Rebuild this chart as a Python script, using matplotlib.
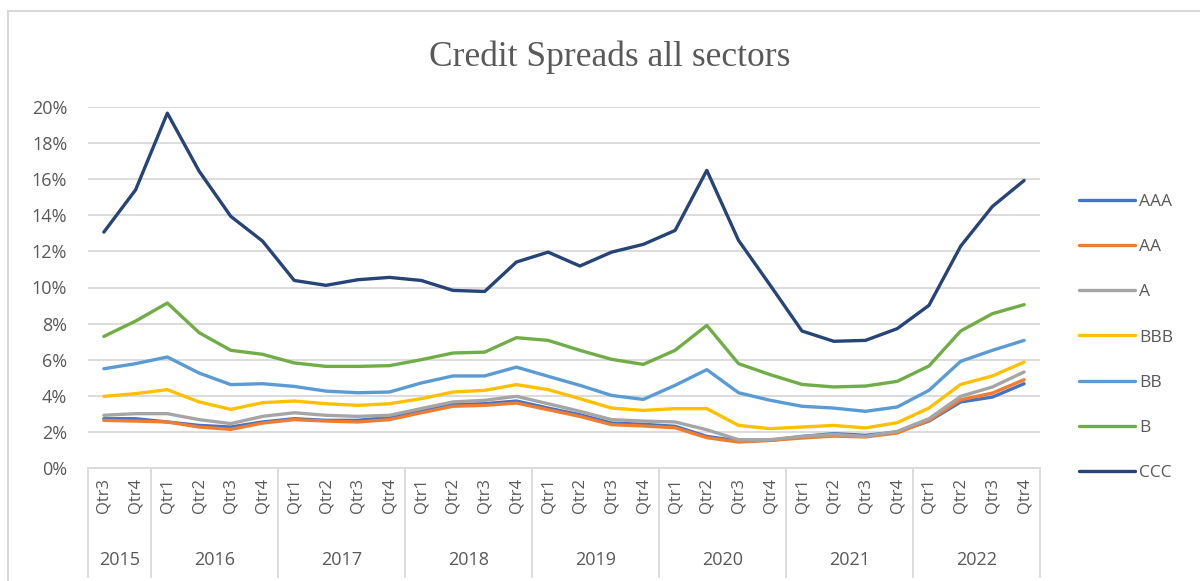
import matplotlib
matplotlib.use("Agg")
import matplotlib.pyplot as plt
from matplotlib.patches import Rectangle
from matplotlib.transforms import blended_transform_factory
import numpy as np

# quarterly credit spreads, 2015 Q3 .. 2022 Q4 (percent)
quarters = ["Qtr3", "Qtr4"] + ["Qtr1", "Qtr2", "Qtr3", "Qtr4"] * 7
years = ["2015", "2016", "2017", "2018", "2019", "2020", "2021", "2022"]
year_len = [2, 4, 4, 4, 4, 4, 4, 4]

aaa = [2.73, 2.73, 2.55, 2.36, 2.27, 2.55, 2.73, 2.64, 2.64, 2.80,
       3.14, 3.51, 3.56, 3.71, 3.32, 2.95, 2.49, 2.42, 2.31, 1.75,
       1.50, 1.53, 1.75, 1.90, 1.81, 1.99, 2.60, 3.66, 3.93, 4.67]
aa = [2.64, 2.60, 2.55, 2.27, 2.14, 2.49, 2.68, 2.60, 2.55, 2.68,
      3.06, 3.42, 3.47, 3.60, 3.23, 2.86, 2.40, 2.33, 2.23, 1.68,
      1.44, 1.53, 1.66, 1.77, 1.72, 1.94, 2.64, 3.78, 4.15, 4.89]
a = [2.92, 3.01, 3.01, 2.68, 2.46, 2.86, 3.06, 2.92, 2.86, 2.92,
     3.29, 3.66, 3.75, 3.97, 3.56, 3.14, 2.68, 2.60, 2.55, 2.12,
     1.57, 1.57, 1.75, 1.86, 1.75, 2.03, 2.73, 3.97, 4.49, 5.32]
bbb = [3.97, 4.12, 4.34, 3.66, 3.25, 3.62, 3.71, 3.56, 3.47, 3.56,
       3.84, 4.21, 4.30, 4.62, 4.34, 3.84, 3.32, 3.19, 3.29, 3.29,
       2.36, 2.18, 2.27, 2.36, 2.22, 2.51, 3.32, 4.63, 5.10, 5.87]
bb = [5.50, 5.78, 6.15, 5.26, 4.62, 4.67, 4.52, 4.26, 4.17, 4.21,
      4.71, 5.10, 5.10, 5.59, 5.08, 4.58, 4.02, 3.80, 4.58, 5.45,
      4.17, 3.75, 3.42, 3.32, 3.14, 3.38, 4.30, 5.91, 6.52, 7.07]
b = [7.29, 8.14, 9.14, 7.50, 6.52, 6.30, 5.82, 5.63, 5.63, 5.67,
     6.00, 6.37, 6.42, 7.22, 7.07, 6.52, 6.02, 5.74, 6.52, 7.90,
     5.78, 5.17, 4.63, 4.49, 4.54, 4.80, 5.65, 7.59, 8.55, 9.05]
ccc = [13.07, 15.41, 19.66, 16.45, 13.94, 12.57, 10.39, 10.12, 10.43, 10.56,
       10.39, 9.84, 9.78, 11.41, 11.96, 11.19, 11.96, 12.39, 13.16, 16.49,
       12.61, 10.12, 7.59, 7.02, 7.07, 7.72, 9.01, 12.29, 14.49, 15.93]

series = [("AAA", aaa, "#4472C4"), ("AA", aa, "#ED7D31"), ("A", a, "#A5A5A5"),
          ("BBB", bbb, "#FFC000"), ("BB", bb, "#5B9BD5"), ("B", b, "#70AD47"),
          ("CCC", ccc, "#264478")]

txt = "#595959"
grid = "#D9D9D9"
plt.rcParams["font.family"] = ["Open Sans", "DejaVu Sans"]

fig = plt.figure(figsize=(12, 5.81), dpi=100)
W, H = 1200, 581
ax = fig.add_axes([88 / W, (H - 468) / H, (1040 - 88) / W, (468 - 107) / H])

# outer chart border
fig.patches.append(Rectangle((8 / W, -0.05), 1.2, (H - 11) / H + 0.05,
                             transform=fig.transFigure, fill=False,
                             edgecolor=grid, linewidth=1.5))

x = np.arange(len(quarters))
for name, vals, col in series:
    ax.plot(x, np.array(vals) / 100, color=col, linewidth=2.4, label=name,
            solid_joinstyle="round", solid_capstyle="round")

ax.set_xlim(-0.5, len(quarters) - 0.5)
ax.set_ylim(0, 0.2)
ax.set_yticks(np.arange(0, 0.201, 0.02))
ax.set_yticklabels([f"{int(round(v * 100))}%" for v in np.arange(0, 0.201, 0.02)])
ax.yaxis.grid(True, color=grid, linewidth=1.3)
ax.set_axisbelow(True)
for s in ["top", "right", "left"]:
    ax.spines[s].set_visible(False)
ax.spines["bottom"].set_color(grid)
ax.spines["bottom"].set_linewidth(1.3)
ax.tick_params(axis="y", length=0, labelsize=13, labelcolor=txt, pad=15)
ax.set_xticks(x)
ax.set_xticklabels(quarters, rotation=90, fontsize=12, color=txt)
ax.tick_params(axis="x", length=0, pad=7)

# year row and separators
tr = blended_transform_factory(ax.transData, ax.transAxes)
edge = -0.5
bottom = -(577 - 468) / (468 - 107)
ax.plot([edge, edge], [0, bottom], transform=tr, color=grid, lw=1.3, clip_on=False)
for yr, n in zip(years, year_len):
    ax.text(edge + n / 2, -(560 - 468) / (468 - 107), yr, transform=tr,
            ha="center", va="center", fontsize=13, color=txt)
    edge += n
    ax.plot([edge, edge], [0, bottom], transform=tr, color=grid, lw=1.3, clip_on=False)

fig.text(610 / W, 1 - 57 / H, "Credit Spreads all sectors", ha="center", va="center",
         fontsize=25.5, color=txt, family="Liberation Serif")

leg = fig.legend(loc="upper left", bbox_to_anchor=(1072 / W, 1 - 187 / H),
                 frameon=False, fontsize=12.5, handlelength=3.2, handletextpad=0.25,
                 labelspacing=1.67, borderaxespad=0)
for t in leg.get_texts():
    t.set_color(txt)

fig.savefig("out.png", dpi=100, facecolor="white")
